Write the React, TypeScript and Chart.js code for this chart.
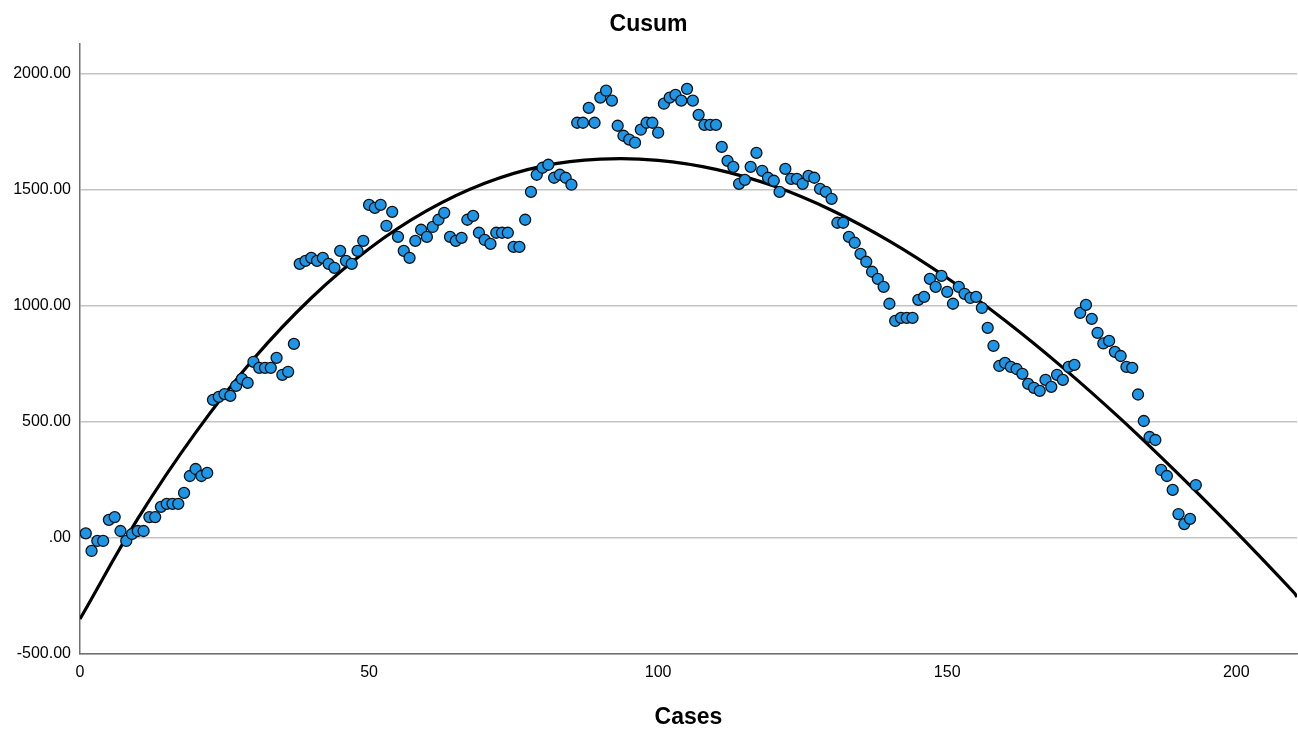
import React, { useEffect, useRef } from "react";
import { Chart, registerables } from "chart.js";

Chart.register(...registerables);

const chartTitle = "Cusum";
const xAxisTitle = "Cases";

// Cusum value for each case (case number = position + 1)
const cusumValues: number[] = [
  20, -56, -13, -13, 78, 90, 30, -13, 17, 30,
  30, 90, 90, 134, 147, 147, 147, 194, 267, 297,
  267, 280, 595, 608, 620, 612, 655, 685, 668, 759,
  733, 733, 733, 776, 703, 716, 836, 1181, 1194, 1207,
  1194, 1207, 1181, 1164, 1237, 1194, 1181, 1237, 1280, 1435,
  1422, 1435, 1345, 1405, 1297, 1237, 1207, 1280, 1328, 1297,
  1340, 1371, 1401, 1297, 1280, 1293, 1371, 1388, 1315, 1284,
  1267, 1315, 1315, 1315, 1254, 1254, 1371, 1491, 1565, 1595,
  1608, 1552, 1565, 1552, 1522, 1789, 1789, 1853, 1789, 1897,
  1927, 1884, 1776, 1733, 1716, 1703, 1759, 1789, 1789, 1746,
  1871, 1897, 1909, 1884, 1935, 1884, 1823, 1780, 1780, 1780,
  1685, 1625, 1599, 1526, 1543, 1599, 1659, 1582, 1552, 1539,
  1491, 1590, 1547, 1547, 1526, 1560, 1552, 1504, 1491, 1461,
  1358, 1358, 1297, 1272, 1224, 1190, 1147, 1116, 1082, 1009,
  935, 948, 948, 948, 1026, 1039, 1116, 1082, 1129, 1060,
  1009, 1082, 1052, 1034, 1039, 991, 905, 828, 741, 754,
  737, 728, 707, 664, 647, 634, 681, 651, 703, 681,
  737, 746, 970, 1004, 944, 884, 838, 849, 802, 784,
  737, 733, 618, 504, 435, 422, 293, 267, 207, 103,
  60, 82, 228,
];

// Fit curve
const fitCases: number[] = [0, 10, 20, 30, 40, 50, 60, 70, 80, 90, 100, 110, 120, 130, 140, 150, 160, 170, 180, 190, 200, 210, 210.5];
const fitValues: number[] = [-349, 83, 454, 771, 1034, 1246, 1410, 1528, 1602, 1632, 1627, 1588, 1516, 1412, 1279, 1120, 937, 734, 513, 275, 25, -236, -254];

const yTicks: number[] = [-500, 0, 500, 1000, 1500, 2000];
const xTicks: number[] = [0, 50, 100, 150, 200];

const FONT = "'Liberation Sans', Arial, Helvetica, sans-serif";

export default function App() {
  const canvasRef = useRef<HTMLCanvasElement | null>(null);

  useEffect(() => {
    if (!canvasRef.current) return;
    const chart = new Chart(canvasRef.current, {
      type: "scatter",
      data: {
        datasets: [
          {
            type: "scatter",
            label: "Cusum",
            data: cusumValues.map((v, i) => ({ x: i + 1, y: v })),
            pointRadius: 5.5,
            pointBackgroundColor: "#1e96e8",
            pointBorderColor: "#111111",
            pointBorderWidth: 1.3,
            showLine: false,
          },
          {
            type: "line",
            label: "Fit",
            data: fitCases.map((c, i) => ({ x: c, y: fitValues[i] })),
            borderColor: "#000000",
            borderWidth: 3.2,
            pointRadius: 0,
            tension: 0.4,
            fill: false,
          },
        ],
      },
      options: {
        responsive: false,
        animation: false,
        devicePixelRatio: 1,
        layout: { autoPadding: false, padding: { left: 0, right: 1, top: 0, bottom: 0 } },
        plugins: {
          legend: { display: false },
          tooltip: { enabled: false },
          title: {
            display: true,
            text: chartTitle,
            color: "#000000",
            font: { family: FONT, size: 23, weight: "bold", lineHeight: 1.2 },
            padding: { top: 11, bottom: 5 },
          },
        },
        scales: {
          x: {
            type: "linear",
            min: 0,
            max: 210.5,
            afterFit: (scale: any) => {
              scale.height = 80;
              scale.paddingLeft = 0;
              scale.paddingRight = 0;
            },
            afterBuildTicks: (scale: any) => {
              scale.ticks = xTicks.map((v) => ({ value: v }));
            },
            ticks: {
              color: "#000000",
              font: { family: FONT, size: 16 },
              padding: 9,
              maxRotation: 0,
              callback: (v: any) => String(v),
            },
            grid: { display: false, drawTicks: false },
            border: { display: true, color: "#707070", width: 1.5 },
            title: {
              display: true,
              text: xAxisTitle,
              color: "#000000",
              font: { family: FONT, size: 23, weight: "bold", lineHeight: 1.2 },
              padding: { top: 0, bottom: 3 },
            },
          },
          y: {
            type: "linear",
            min: -500,
            max: 2130,
            afterFit: (scale: any) => {
              scale.width = 80;
              scale.paddingTop = 0;
              scale.paddingBottom = 0;
            },
            afterBuildTicks: (scale: any) => {
              scale.ticks = yTicks.map((v) => ({ value: v }));
            },
            ticks: {
              color: "#000000",
              font: { family: FONT, size: 16 },
              padding: 9,
              callback: (v: any) => (Number(v) === 0 ? ".00" : Number(v).toFixed(2)),
            },
            grid: { display: true, drawTicks: false, color: "#c4c4c4", lineWidth: 1.5 },
            border: { display: true, color: "#707070", width: 1.5 },
          },
        },
      },
    });
    return () => chart.destroy();
  }, []);

  return (
    <div style={{ position: "fixed", left: 0, top: 0, width: 1298, height: 734, background: "#ffffff" }}>
      <canvas ref={canvasRef} width={1298} height={734} style={{ display: "block" }} />
    </div>
  );
}
